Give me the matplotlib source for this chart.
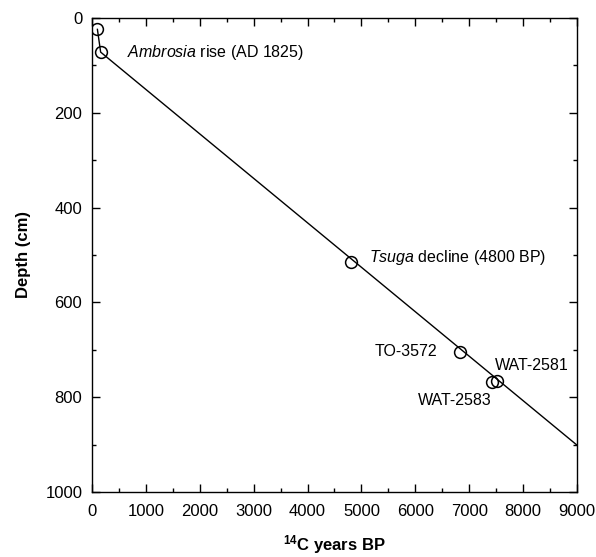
import matplotlib.pyplot as plt
from matplotlib.ticker import MultipleLocator

plt.rcParams["font.family"] = ["Liberation Sans", "DejaVu Sans"]
plt.rcParams["mathtext.fontset"] = "custom"
plt.rcParams["mathtext.rm"] = "Liberation Sans"
plt.rcParams["mathtext.it"] = "Liberation Sans:italic"
plt.rcParams["mathtext.bf"] = "Liberation Sans:bold"

# Dated levels (14C years BP vs depth in cm)
ages = [100, 160, 4800, 6830, 7430, 7510]
depths = [24, 72, 514, 704, 768, 765]

# Age-depth model line
model_ages = [100, 160, 9000]
model_depths = [24, 72, 901]

# Labels: text, x, y, alignment
labels = [
    (r"$\it{Ambrosia}$ rise (AD 1825)", 650, 72, "left"),
    (r"$\it{Tsuga}$ decline (4800 BP)", 5150, 505, "left"),
    ("TO-3572", 6400, 703, "right"),
    ("WAT-2581", 7470, 733, "left"),
    ("WAT-2583", 6050, 806, "left"),
]

fig = plt.figure(figsize=(5.96, 5.57), dpi=100)
ax = fig.add_axes([0.1544, 0.1167, 0.8136, 0.851])

ax.plot(model_ages, model_depths, color="black", lw=1.0)
ax.plot(ages, depths, "o", ms=8.5, mfc="none", mec="black", mew=1.1)

for txt, x, y, ha in labels:
    ax.text(x, y, txt, ha=ha, va="center", fontsize=11.5)

ax.set_xlim(0, 9000)
ax.set_ylim(1000, 0)
ax.xaxis.set_major_locator(MultipleLocator(1000))
ax.xaxis.set_minor_locator(MultipleLocator(500))
ax.yaxis.set_major_locator(MultipleLocator(200))
ax.yaxis.set_minor_locator(MultipleLocator(100))
ax.tick_params(which="both", direction="in", top=True, right=True, width=1.0)
ax.tick_params(which="major", length=6, labelsize=12)
ax.tick_params(axis="x", which="major", pad=9)
ax.tick_params(axis="y", which="major", pad=7)
ax.tick_params(which="minor", length=3)
for s in ax.spines.values():
    s.set_linewidth(1.0)

ax.set_xlabel(r"$^{\mathbf{14}}$C years BP", fontsize=12, fontweight="bold", labelpad=10)
ax.set_ylabel("Depth (cm)", fontsize=12, fontweight="bold", labelpad=10)

fig.savefig("out.png", dpi=100)
